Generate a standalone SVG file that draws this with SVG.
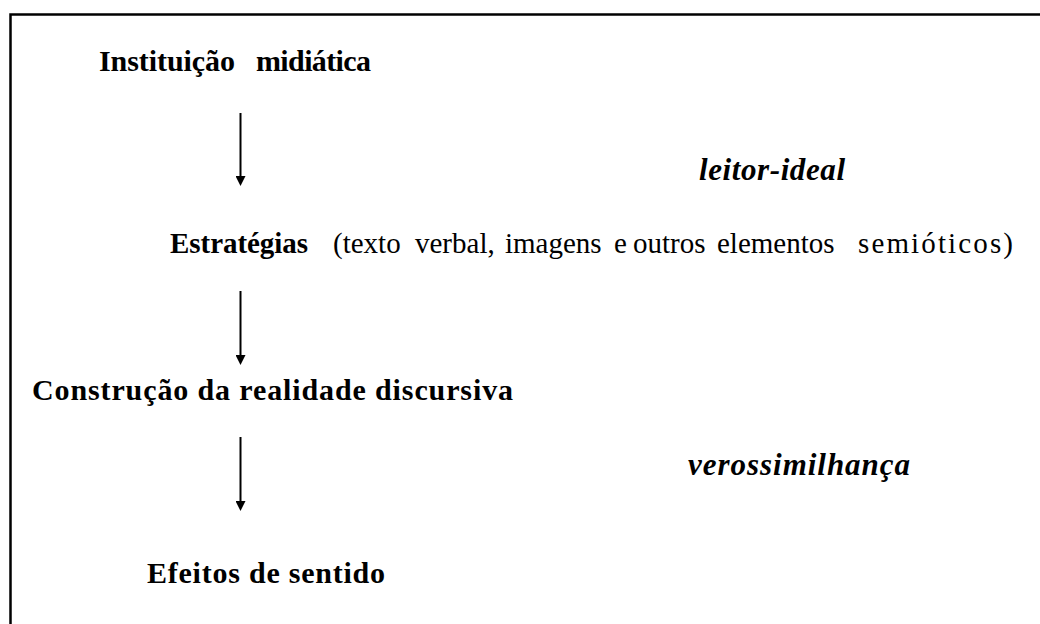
<svg xmlns="http://www.w3.org/2000/svg" width="1040" height="624" viewBox="0 0 1040 624">
  <defs>
    <marker id="ah" viewBox="0 0 10 10" markerWidth="10" markerHeight="10" markerUnits="userSpaceOnUse" refX="0" refY="5" orient="auto">
      <path d="M0,0 L10,5 L0,10 z" fill="#000"/>
    </marker>
    <style>
      text { font-family: "Liberation Serif", "Times New Roman", serif; fill: #000; }
      .b { font-weight: bold; font-size: 30px; }
      .bi { font-weight: bold; font-style: italic; font-size: 31px; }
      .r { font-size: 29px; }
      .conn line { stroke: #000; stroke-width: 2; marker-end: url(#ah); }
    </style>
  </defs>
  <rect width="1040" height="624" fill="#fff"/>
  <path d="M10.5,624 V14.5 H1040" fill="none" stroke="#000" stroke-width="2.5"/>

  <g id="instituicao">
    <text class="b" x="99" y="71" textLength="136" lengthAdjust="spacing">Instituição</text>
    <text class="b" x="256" y="71" textLength="115" lengthAdjust="spacing">midiática</text>
  </g>
  <g id="leitor-ideal">
    <text class="bi" x="699" y="180" textLength="146" lengthAdjust="spacing">leitor-ideal</text>
  </g>
  <g id="estrategias">
    <text class="b" style="font-size:29px" x="170" y="253" textLength="138" lengthAdjust="spacing">Estratégias</text>
    <text class="r" x="333" y="253">(texto</text>
    <text class="r" x="415" y="253">verbal,</text>
    <text class="r" x="505" y="253">imagens</text>
    <text class="r" x="614" y="253">e</text>
    <text class="r" x="633" y="253">outros</text>
    <text class="r" x="717" y="253">elementos</text>
    <text class="r" x="858" y="253" textLength="155" lengthAdjust="spacing">semióticos)</text>
  </g>
  <g id="construcao">
    <text class="b" x="32" y="400" textLength="481" lengthAdjust="spacing">Construção da realidade discursiva</text>
  </g>
  <g id="verossimilhanca">
    <text class="bi" x="688" y="475" textLength="222" lengthAdjust="spacing">verossimilhança</text>
  </g>
  <g id="efeitos">
    <text class="b" x="147" y="583" textLength="238" lengthAdjust="spacing">Efeitos de sentido</text>
  </g>

  <g id="connectors" class="conn">
    <line x1="240.5" y1="113" x2="240.5" y2="176"/>
    <line x1="240.5" y1="291" x2="240.5" y2="355"/>
    <line x1="240.5" y1="437" x2="240.5" y2="501"/>
  </g>
</svg>
